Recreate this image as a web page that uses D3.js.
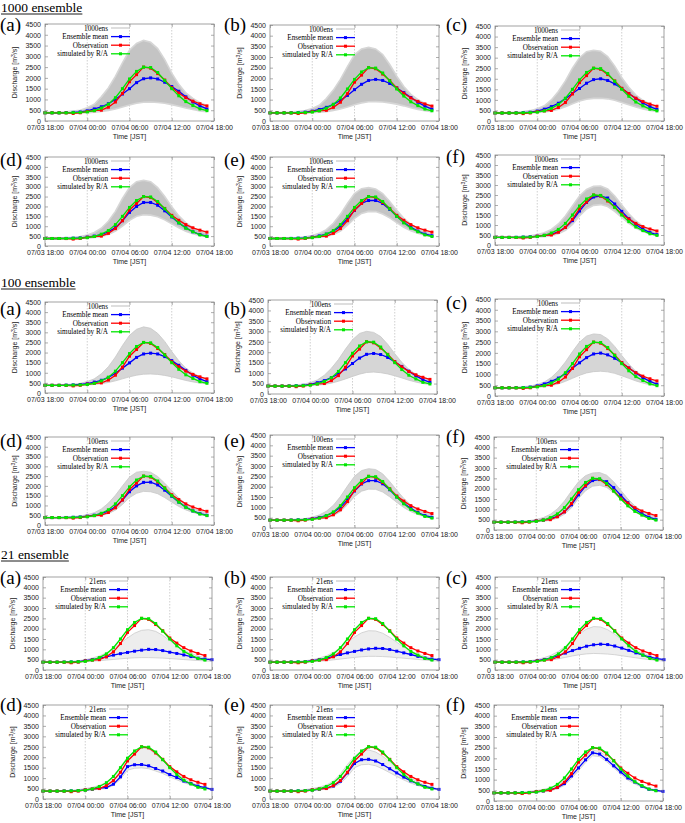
<!DOCTYPE html>
<html><head><meta charset="utf-8">
<script src="https://cdn.jsdelivr.net/npm/d3@7"></script>
<style>body{margin:0;background:#fff}svg{display:block}</style>
</head><body><svg id="c" width="685" height="823"></svg>
<script>
// ---------- DATA (hourly, from 07/03 18:00) ----------
const sectionTitles = ["1000 ensemble", "100 ensemble", "21 ensemble"];
const ensNames = ["1000ens", "100ens", "21ens"];
const panelLetters = ["(a)", "(b)", "(c)", "(d)", "(e)", "(f)"];
const tickHours = [0, 6, 12, 18, 24];
const tickLabels = ["07/03 18:00", "07/04 00:00", "07/04 06:00", "07/04 12:00", "07/04 18:00"];
const yTicks = [0, 500, 1000, 1500, 2000, 2500, 3000, 3500, 4000, 4500];
const legendLabels = ["Ensemble mean", "Observation", "simulated by R/A"];

const obs = [380,380,380,375,350,380,440,480,500,640,880,1280,1820,2150,2500,2450,2200,1900,1550,1300,1080,920,800,700];
const sim = [380,380,380,380,390,400,420,480,600,780,1080,1500,1950,2300,2500,2480,2250,1880,1500,1170,900,720,560,480];

const mean1000 = [
  [380,380,380,390,400,420,470,560,660,800,1000,1250,1500,1780,1960,2000,1950,1800,1600,1380,1120,880,700,560],
  [380,380,380,385,395,415,460,540,640,780,960,1200,1470,1720,1900,1950,1900,1760,1550,1330,1100,880,700,560],
  [380,380,380,385,395,415,470,560,680,840,1060,1300,1540,1790,1960,2000,1920,1760,1540,1300,1070,850,680,550],
  [380,380,380,385,395,410,450,500,580,720,930,1280,1700,2000,2200,2200,2060,1780,1470,1170,920,720,580,500],
  [380,380,380,385,395,410,450,510,600,750,1000,1380,1800,2150,2300,2300,2150,1850,1500,1200,950,750,600,520],
  [380,380,380,385,395,410,440,480,550,660,880,1220,1700,2130,2400,2450,2350,2050,1680,1320,1020,790,620,520]
];
const upper1000 = [
  [400,400,410,430,460,500,620,780,1120,1530,2070,2700,3280,3600,3740,3650,3360,2850,2220,1700,1300,1050,850,720],
  [400,400,410,420,450,490,590,740,1050,1450,1950,2550,3100,3380,3450,3380,3120,2650,2100,1620,1250,1000,820,700],
  [400,400,410,420,450,490,580,720,1000,1400,1900,2500,3000,3280,3350,3300,3050,2600,2050,1600,1230,980,800,690],
  [400,400,410,420,440,480,560,680,900,1250,1750,2400,2950,3250,3320,3250,2950,2500,1980,1520,1170,930,760,650],
  [400,400,405,415,430,460,530,640,830,1150,1600,2150,2650,2900,2950,2880,2650,2250,1800,1400,1100,880,730,630],
  [400,400,405,415,430,460,520,610,780,1050,1450,1950,2450,2780,2930,2950,2800,2450,2000,1560,1200,940,760,640]
];
const lower1000 = [
  [360,360,360,360,360,370,390,410,440,490,560,650,740,820,870,880,860,820,760,680,600,530,470,430],
  [360,360,360,360,360,370,390,410,440,490,560,660,760,850,900,910,890,850,790,710,620,540,480,440],
  [360,360,360,360,370,380,400,430,480,560,680,820,950,1030,1070,1080,1050,980,880,770,660,570,500,450],
  [360,360,360,360,370,380,400,430,480,580,750,1000,1300,1500,1580,1560,1480,1320,1120,920,750,620,530,470],
  [360,360,360,360,370,380,400,430,480,580,760,1050,1400,1650,1750,1740,1620,1420,1180,950,770,640,540,480],
  [360,360,360,360,370,380,400,420,470,560,730,1030,1450,1800,1980,2020,1920,1680,1380,1080,850,680,560,490]
];

const mean100 = [
  [380,380,380,390,400,420,460,540,630,770,970,1230,1490,1760,1930,1970,1930,1800,1600,1370,1120,880,700,560],
  [380,380,380,385,395,415,460,540,640,780,960,1200,1460,1720,1900,1940,1890,1750,1540,1320,1090,870,690,560],
  [380,380,380,385,395,415,470,560,680,830,1040,1290,1540,1780,1950,1990,1910,1750,1540,1300,1070,850,680,550],
  [380,380,380,385,395,410,450,500,580,720,930,1280,1700,2000,2180,2190,2050,1780,1470,1170,920,720,580,500],
  [380,380,380,385,395,410,450,510,600,750,1000,1370,1790,2130,2290,2290,2140,1850,1500,1200,950,750,600,520],
  [380,380,380,385,395,410,440,480,550,660,880,1220,1700,2120,2390,2440,2340,2050,1680,1320,1020,790,620,520]
];
const upper100 = [
  [400,400,405,420,445,480,570,700,950,1300,1780,2350,2850,3150,3270,3200,2950,2550,2050,1600,1230,990,810,700],
  [400,400,405,415,440,470,550,670,900,1230,1650,2150,2600,2900,3000,2950,2750,2380,1930,1520,1180,950,790,680],
  [400,400,405,415,435,465,540,650,860,1170,1580,2060,2500,2780,2880,2850,2650,2300,1880,1480,1150,930,770,670],
  [400,400,405,415,435,465,530,630,820,1120,1520,2000,2450,2700,2750,2700,2480,2140,1760,1390,1080,870,720,630],
  [400,400,405,415,435,460,530,630,810,1100,1520,2030,2500,2780,2870,2830,2620,2250,1830,1430,1110,890,730,630],
  [400,400,405,415,430,455,510,600,760,1020,1400,1880,2330,2630,2760,2780,2650,2330,1920,1510,1170,930,760,650]
];
const lower100 = [
  [360,360,360,360,365,375,395,420,460,520,600,700,800,880,930,940,920,870,800,710,620,550,490,450],
  [360,360,360,360,365,375,395,420,460,520,610,720,840,950,1030,1050,1020,960,870,770,660,570,500,450],
  [360,360,360,360,365,375,400,430,480,560,680,820,960,1070,1130,1150,1120,1050,940,820,700,600,520,460],
  [360,360,360,360,370,380,400,430,480,580,760,1050,1400,1620,1720,1700,1600,1400,1170,950,770,640,540,480],
  [360,360,360,360,370,380,400,430,480,590,790,1120,1520,1780,1880,1870,1740,1510,1240,990,790,650,550,490],
  [360,360,360,360,370,380,400,420,470,570,760,1070,1530,1900,2120,2160,2060,1800,1460,1130,880,700,570,500]
];

const mean21 = [
  [380,380,380,385,390,400,450,500,560,640,720,790,850,910,960,1000,990,940,860,800,730,650,570,530,500],
  [380,380,380,385,390,400,450,500,570,660,750,830,900,970,1020,1050,1040,990,910,830,750,660,580,530,500],
  [380,380,380,385,390,400,450,510,590,700,820,940,1050,1150,1220,1250,1230,1160,1060,950,830,720,620,550,500],
  [380,380,380,385,390,400,430,470,520,550,710,1060,1550,1640,1650,1590,1460,1340,1170,1030,860,740,620,540,460],
  [380,380,380,385,390,400,430,470,530,620,850,1250,1700,1880,1900,1820,1650,1450,1250,1050,870,720,600,520,460],
  [380,380,380,385,390,400,430,470,530,630,815,1175,1550,1930,2260,2200,1950,1650,1360,1080,890,690,550,500,450]
];
const upper21 = [
  [390,390,395,400,420,450,500,580,680,830,1050,1300,1550,1780,1920,1950,1870,1680,1420,1170,960,800,680,590,530],
  [390,390,395,400,420,450,500,580,690,850,1080,1340,1600,1800,1900,1890,1780,1580,1340,1110,920,770,660,580,520],
  [390,390,395,400,420,450,510,600,720,900,1150,1450,1750,1980,2100,2080,1950,1730,1460,1200,980,810,680,590,520],
  [390,390,395,400,420,450,500,560,650,800,1100,1550,2000,2300,2450,2400,2150,1850,1550,1250,1000,800,650,560,480],
  [390,390,395,400,420,450,500,570,670,850,1200,1650,2050,2300,2350,2250,2050,1780,1500,1230,1000,810,660,560,480],
  [390,390,395,400,420,450,490,550,620,750,950,1320,1700,2080,2380,2330,2080,1760,1440,1130,920,740,600,520,470]
];
const lower21 = [
  [370,370,370,370,375,380,400,420,450,480,510,540,570,590,600,600,590,575,555,530,505,480,460,440,420],
  [370,370,370,370,375,380,400,420,450,490,530,570,610,640,660,660,650,630,600,570,540,510,480,450,430],
  [370,370,370,370,375,385,410,440,480,540,610,680,740,780,800,790,770,740,690,640,590,540,500,460,430],
  [370,370,370,370,375,380,400,430,470,500,650,950,1380,1470,1490,1450,1340,1220,1060,920,780,670,570,500,440],
  [370,370,370,370,375,380,400,430,470,550,740,1080,1500,1640,1660,1590,1440,1260,1080,910,760,640,550,480,430],
  [370,370,370,370,375,380,400,430,470,570,730,1050,1420,1800,2120,2080,1840,1550,1270,980,800,640,520,460,420]
];

// ---------- LAYOUT ----------
const W = 169;
const titleY = [12, 287, 559];
const panelBox = [ // [left, top, bottom]
  [[45,24,121],[270,25,121],[495,26,121],[45,157,246],[270,157,246],[495,155,245]],
  [[45,302,393],[268,300,394],[495,299,396],[45,437,525],[270,435,528],[494,437,530]],
  [[43,577,670],[270,577,670],[495,577,670],[43,705,799],[270,705,799],[494,705,801]]
];
const labelX = [0, 224, 446];
const labelY = [[31,31,31,166,166,163],[315,315,309,447,447,443],[584,584,584,711,711,711]];
const bandStyle = [
  {fill:"#c4c4c4", edge:"#d6d6d6", ew:1.6},
  {fill:"#d6d6d6", edge:"#c8c8c8", ew:0.8},
  {fill:"#ededed", edge:"#c6c6c6", ew:0.7}
];
const COL = {mean:"#0000ff", obs:"#ff0000", sim:"#00e600"};

const svg = d3.select("#c");
const sans = "'Liberation Sans', Arial, sans-serif";
const serif = "'Liberation Serif', 'Times New Roman', serif";

const ensData = [
  [mean1000, upper1000, lower1000],
  [mean100, upper100, lower100],
  [mean21, upper21, lower21]
];

sectionTitles.forEach((t, s) => {
  const tx = svg.append("text").attr("x", 1).attr("y", titleY[s])
    .attr("font-family", serif).attr("font-size", 13.5).attr("fill", "#000").text(t);
  const bb = tx.node().getBBox();
  svg.append("line").attr("x1", 1).attr("x2", bb.x + bb.width).attr("y1", titleY[s] + 2).attr("y2", titleY[s] + 2)
    .attr("stroke", "#000").attr("stroke-width", 0.9);

  for (let p = 0; p < 6; p++) {
    const [L, T, B] = panelBox[s][p];
    const g = svg.append("g");
    const x = d3.scaleLinear().domain([0, 24]).range([L, L + W]);
    const y = d3.scaleLinear().domain([0, 4500]).range([B, T]);
    const [meanA, upA, loA] = ensData[s];
    const mean = meanA[p], up = upA[p], lo = loA[p];
    const st = bandStyle[s];

    // grid
    g.selectAll(".grid").data([6, 12, 18]).join("line")
      .attr("x1", d => x(d)).attr("x2", d => x(d)).attr("y1", T).attr("y2", B)
      .attr("stroke", "#b0b0b0").attr("stroke-width", 0.6).attr("stroke-dasharray", "1.5,1.5");

    // ensemble band
    const area = d3.area().x((d, i) => x(i)).y0((d, i) => y(lo[i])).y1(d => y(d));
    g.append("path").datum(up).attr("d", area).attr("fill", st.fill).attr("stroke", "none");
    const ln = d3.line().x((d, i) => x(i)).y(d => y(d));
    g.append("path").datum(up).attr("d", ln).attr("fill", "none").attr("stroke", st.edge).attr("stroke-width", st.ew);
    g.append("path").datum(lo).attr("d", ln).attr("fill", "none").attr("stroke", st.edge).attr("stroke-width", st.ew);

    // series
    [[mean, COL.mean], [obs, COL.obs], [sim, COL.sim]].forEach(([arr, c]) => {
      g.append("path").datum(arr).attr("d", ln).attr("fill", "none").attr("stroke", c).attr("stroke-width", 1.3);
      g.selectAll(null).data(arr).join("rect")
        .attr("x", (d, i) => x(i) - 1.5).attr("y", d => y(d) - 1.5).attr("width", 3).attr("height", 3).attr("fill", c);
    });

    // axes
    const fs = 7;
    const ax = g.append("g").attr("transform", `translate(${L},0)`)
      .call(d3.axisLeft(y).tickValues(yTicks).tickSize(-3).tickPadding(4).tickFormat(d3.format("d")));
    const axr = g.append("g").attr("transform", `translate(${L + W},0)`)
      .call(d3.axisRight(y).tickValues(yTicks).tickSize(-3).tickFormat(""));
    const axb = g.append("g").attr("transform", `translate(0,${B})`)
      .call(d3.axisBottom(x).tickValues(tickHours).tickSize(-3).tickPadding(4).tickFormat((d, i) => tickLabels[i]));
    const axt = g.append("g").attr("transform", `translate(0,${T})`)
      .call(d3.axisTop(x).tickValues(tickHours).tickSize(-3).tickFormat(""));
    [ax, axr, axb, axt].forEach(a => {
      a.select(".domain").remove();
      a.selectAll("line").attr("stroke", "#777").attr("stroke-width", 0.6);
      a.selectAll("text").attr("font-family", sans).attr("font-size", fs).attr("fill", "#222");
    });
    g.append("rect").attr("x", L).attr("y", T).attr("width", W).attr("height", B - T)
      .attr("fill", "none").attr("stroke", "#8a8a8a").attr("stroke-width", 0.8);

    // axis titles
    g.append("text").attr("x", L + W / 2).attr("y", B + 18).attr("text-anchor", "middle")
      .attr("font-family", sans).attr("font-size", fs).attr("fill", "#222").text("Time [JST]");
    const yl = g.append("text").attr("transform", `translate(${L - 28},${(T + B) / 2}) rotate(-90)`)
      .attr("text-anchor", "middle").attr("font-family", sans).attr("font-size", fs).attr("fill", "#222");
    yl.append("tspan").text("Discharge [m");
    yl.append("tspan").attr("dy", -2.5).attr("font-size", 5).text("3");
    yl.append("tspan").attr("dy", 2.5).text("/s]");

    // legend
    const lx = L + 63, ly0 = T + 4, dy = 8.6;
    const legItems = [[ensNames[s], "#bdbdbd", false], [legendLabels[0], COL.mean, true], [legendLabels[1], COL.obs, true], [legendLabels[2], COL.sim, true]];
    legItems.forEach(([lab, c, mk], k) => {
      const yy = ly0 + k * dy;
      g.append("text").attr("x", lx).attr("y", yy + 2.5).attr("text-anchor", "end")
        .attr("font-family", serif).attr("font-size", 7.2).attr("fill", "#000").text(lab);
      g.append("line").attr("x1", lx + 3).attr("x2", lx + 22).attr("y1", yy).attr("y2", yy)
        .attr("stroke", c).attr("stroke-width", mk ? 1.3 : 1);
      if (mk) g.append("rect").attr("x", lx + 11).attr("y", yy - 1.5).attr("width", 3).attr("height", 3).attr("fill", c);
    });

    // panel letter
    svg.append("text").attr("x", labelX[p % 3]).attr("y", labelY[s][p])
      .attr("font-family", serif).attr("font-size", 19).attr("fill", "#000").text(panelLetters[p]);
  }
});
</script></body></html>
